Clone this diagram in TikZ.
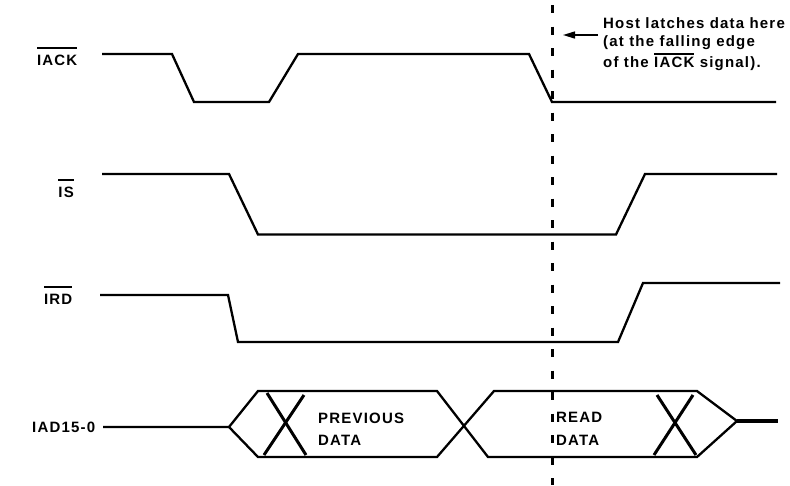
\documentclass[tikz,border=0pt]{standalone}
\usepackage{fontspec}
\setmainfont{Liberation Sans}[LetterSpace=8]
\usetikzlibrary{arrows.meta}
\newcommand\ovlbox[2]{\setbox0\hbox{#2}\rlap{\raisebox{#1}{\rule{\wd0}{1.3pt}}}\box0\relax}
\begin{document}
\begin{tikzpicture}[x=1pt,y=-1pt,
  sig/.style={line width=2.3pt, line join=miter},
  xmark/.style={line width=3pt},
  lbl/.style={font=\fontsize{15}{18}\selectfont\bfseries, inner sep=0pt},
  latchline/.style={line width=3pt, dash pattern=on 8pt off 13.5pt}]
\useasboundingbox (0,0) rectangle (790,485);

% signal labels
\node[lbl, anchor=base east] (liack) at (77.5,65) {\ovlbox{16.3pt}{IACK}};
\node[lbl, anchor=base east] (lis) at (74,197) {\ovlbox{16.3pt}{IS}};
\node[lbl, anchor=base east] (lird) at (72.5,304) {\ovlbox{16.3pt}{IRD}};
\node[lbl, anchor=base east] (liad) at (95.5,432) {IAD15-0};

% IACK
\draw[sig] (102,54) -- (172,54) -- (194,102) -- (269,102) -- (298,54) -- (529,54) -- (552,102) -- (776,102);
% IS
\draw[sig] (102,174) -- (229,174) -- (258,234.5) -- (616,234.5) -- (645,174) -- (777,174);
% IRD
\draw[sig] (100,295) -- (228,295) -- (238,342) -- (618,342) -- (643,283) -- (780,283);
% IAD
\draw[sig] (103,427) -- (229,427) -- (258,391) -- (437,391) -- (488,457) -- (697,457) -- (737,421);
\draw[sig] (229,427) -- (258,457) -- (437,457) -- (494,391) -- (697,391) -- (737,421);
\draw[line width=3.2pt] (737,421) -- (778,421);
\draw[xmark] (267,393) -- (306,455);
\draw[xmark] (304,395) -- (264,455);
\draw[xmark] (657,395) -- (696,455);
\draw[xmark] (693,395) -- (654,455);

\node[lbl, anchor=base west] (prev1) at (318,423) {PREVIOUS};
\node[lbl, anchor=base west] (prev2) at (318,445) {DATA};
\node[lbl, anchor=base west] (read1) at (556,422) {READ};
\node[lbl, anchor=base west] (read2) at (556,445) {DATA};

% latch line
\coordinate (ltop) at (552.5,5);
\coordinate (lbot) at (552.5,485);
\draw[latchline] (ltop) -- (lbot);

% callout
\node[lbl, anchor=base west] (c1) at (603,28) {Host latches data here};
\node[lbl, anchor=base west] (c2) at (603,46) {(at the falling edge};
\node[lbl, anchor=base west] (c3) at (603,67) {of the \ovlbox{12.5pt}{IACK} signal).};
\coordinate (atail) at (598,35);
\coordinate (atip) at (563,35);
\draw[line width=1.5pt, -{Triangle[length=12pt,width=7pt]}] (atail) -- (atip);
\end{tikzpicture}
\end{document}
